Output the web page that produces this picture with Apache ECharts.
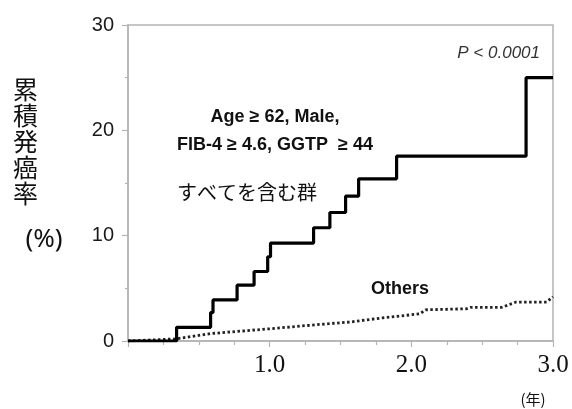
<!DOCTYPE html>
<html>
<head>
<meta charset="utf-8">
<script src="https://cdn.jsdelivr.net/npm/echarts@6/dist/echarts.min.js"></script>
<style>
html, body { margin: 0; padding: 0; background: #fff; }
#main { width: 572px; height: 409px; }
</style>
</head>
<body>
<div id="main"></div>
<script>
// 累積発癌率 (%) vs 年
var highYears  = [0, 0.343, 0.583, 0.60, 0.77, 0.89, 0.986, 1.006, 1.31, 1.425, 1.536, 1.628, 1.896, 2.81, 3.0];
var highRate   = [0, 1.3, 2.7, 3.9, 5.3, 6.6, 8.0, 9.3, 10.75, 12.2, 13.75, 15.4, 17.55, 25.0, 25.0];
var otherYears = [0, 0.34, 0.58, 1.0, 1.35, 1.567, 1.80, 2.06, 2.10, 2.39, 2.42, 2.64, 2.74, 2.955, 3.0];
var otherRate  = [0, 0.2, 0.7, 1.16, 1.57, 1.8, 2.2, 2.58, 2.96, 3.06, 3.2, 3.2, 3.7, 3.7, 4.2];
var xTickLabels = ['1.0', '2.0', '3.0'];
var yTickLabels = ['0', '10', '20', '30'];

function pairs(xs, ys) {
    var out = [];
    for (var i = 0; i < xs.length; i++) {
        out.push([xs[i], ys[i]]);
    }
    return out;
}

var axisGray = '#b4b4b4';

var option = {
    animation: false,
    grid: {
        left: 128,
        right: 19,
        top: 25,
        bottom: 68,
        show: true,
        borderColor: axisGray,
        borderWidth: 1.5
    },
    xAxis: {
        type: 'value',
        min: 0,
        max: 3,
        interval: 1,
        axisLine: { lineStyle: { color: axisGray, width: 1.5 } },
        axisTick: { length: 6, lineStyle: { color: axisGray, width: 1.2 } },
        minorTick: { show: true, splitNumber: 4, length: 4, lineStyle: { color: axisGray, width: 1.2 } },
        splitLine: { show: false },
        axisLabel: {
            margin: 12,
            fontFamily: 'Liberation Serif',
            fontSize: 25,
            color: '#111',
            formatter: function (v) {
                var i = Math.round(v) - 1;
                return i >= 0 ? xTickLabels[i] : '';
            }
        }
    },
    yAxis: {
        type: 'value',
        min: 0,
        max: 30,
        interval: 10,
        axisLine: { show: true, lineStyle: { color: axisGray, width: 1.5 } },
        axisTick: { show: true, length: 6, lineStyle: { color: axisGray, width: 1.2 } },
        minorTick: { show: true, splitNumber: 2, length: 3, lineStyle: { color: axisGray, width: 1.2 } },
        splitLine: { show: false },
        axisLabel: {
            margin: 14,
            fontFamily: 'Liberation Sans',
            fontSize: 20,
            color: '#1a1a1a',
            formatter: function (v) {
                return yTickLabels[Math.round(v / 10)];
            }
        }
    },
    series: [
        {
            name: 'Others',
            type: 'line',
            data: pairs(otherYears, otherRate),
            showSymbol: false,
            lineStyle: { color: '#222', width: 2.8, type: [2.5, 2.5] },
            z: 2
        },
        {
            name: 'すべてを含む群',
            type: 'line',
            step: 'end',
            data: pairs(highYears, highRate),
            showSymbol: false,
            lineStyle: { color: '#000', width: 3.2 },
            z: 3
        }
    ],
    graphic: [
        { type: 'text', x: 13, y: 76, style: { text: '累\n積\n発\n癌\n率', fontFamily: 'Noto Sans CJK JP', fontSize: 25, lineHeight: 26, fill: '#111' } },
        { type: 'text', x: 44, y: 240, style: { text: '(%)', align: 'center', verticalAlign: 'middle', fontFamily: 'Noto Sans', fontSize: 26, fill: '#111' } },
        { type: 'text', x: 540, y: 53, style: { text: 'P < 0.0001', align: 'right', verticalAlign: 'middle', fontFamily: 'Liberation Sans', fontStyle: 'italic', fontSize: 17, fill: '#333' } },
        { type: 'text', x: 275, y: 117, style: { text: 'Age ≥ 62, Male,', align: 'center', verticalAlign: 'middle', fontFamily: 'Liberation Sans', fontWeight: 'bold', fontSize: 18, fill: '#111' } },
        { type: 'text', x: 275, y: 145, style: { text: 'FIB-4 ≥ 4.6, GGTP  ≥ 44', align: 'center', verticalAlign: 'middle', fontFamily: 'Liberation Sans', fontWeight: 'bold', fontSize: 18, fill: '#111' } },
        { type: 'text', x: 247, y: 192, style: { text: 'すべてを含む群', align: 'center', verticalAlign: 'middle', fontFamily: 'Noto Sans CJK JP', fontSize: 20, fill: '#111' } },
        { type: 'text', x: 400, y: 289, style: { text: 'Others', align: 'center', verticalAlign: 'middle', fontFamily: 'Liberation Sans', fontWeight: 'bold', fontSize: 18, fill: '#111' } },
        { type: 'text', x: 533, y: 399, style: { text: '(年)', align: 'center', verticalAlign: 'middle', fontFamily: 'Noto Sans CJK JP', fontSize: 15, fill: '#111' } }
    ]
};

var myChart = echarts.init(document.getElementById('main'));
myChart.setOption(option);
</script>
</body>
</html>
